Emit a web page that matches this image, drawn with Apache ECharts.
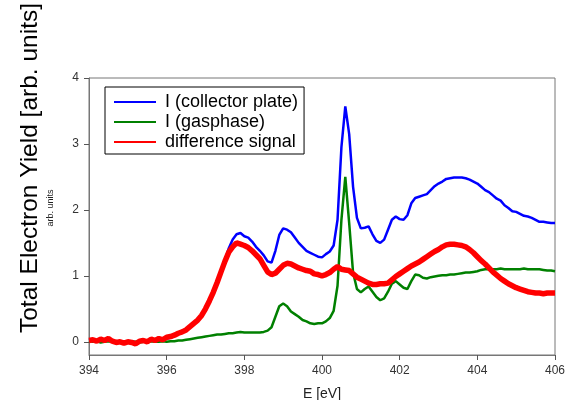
<!DOCTYPE html>
<html>
<head>
<meta charset="utf-8">
<script src="https://cdn.jsdelivr.net/npm/echarts@6/dist/echarts.min.js"></script>
<style>html,body{margin:0;padding:0;background:#fff}#c{width:565px;height:400px}</style>
</head>
<body>
<div id="c"></div>
<script>
// Photon energy (eV)
var energy = [
394.0,394.1,394.2,394.3,394.4,394.5,394.6,394.7,394.8,394.9,
395.0,395.1,395.2,395.3,395.4,395.5,395.6,395.7,395.8,395.9,
396.0,396.1,396.2,396.3,396.4,396.5,396.6,396.7,396.8,396.9,
397.0,397.1,397.2,397.3,397.4,397.5,397.6,397.7,397.8,397.9,
398.0,398.1,398.2,398.3,398.4,398.5,398.6,398.7,398.8,398.9,
399.0,399.1,399.2,399.3,399.4,399.5,399.6,399.7,399.8,399.9,
400.0,400.1,400.2,400.3,400.4,400.5,400.6,400.7,400.8,400.9,
401.0,401.1,401.2,401.3,401.4,401.5,401.6,401.7,401.8,401.9,
402.0,402.1,402.2,402.3,402.4,402.5,402.6,402.7,402.8,402.9,
403.0,403.1,403.2,403.3,403.4,403.5,403.6,403.7,403.8,403.9,
404.0,404.1,404.2,404.3,404.4,404.5,404.6,404.7,404.8,404.9,
405.0,405.1,405.2,405.3,405.4,405.5,405.6,405.7,405.8,405.9,
406.0];

var collectorPlate = [
0.02,0.03,0.02,0.03,0.02,0.03,0.01,0.00,0.00,0.00,
0.00,0.01,-0.01,0.01,0.02,0.02,0.03,0.03,0.04,0.04,
0.05,0.06,0.09,0.12,0.14,0.17,0.22,0.27,0.33,0.40,
0.50,0.62,0.75,0.92,1.08,1.24,1.42,1.55,1.63,1.65,
1.60,1.58,1.52,1.44,1.38,1.31,1.22,1.20,1.38,1.62,
1.72,1.70,1.66,1.58,1.50,1.44,1.38,1.35,1.32,1.29,
1.28,1.33,1.37,1.46,1.85,2.95,3.57,3.15,2.35,1.88,
1.72,1.73,1.75,1.63,1.53,1.50,1.55,1.70,1.85,1.90,
1.86,1.85,1.92,2.10,2.18,2.20,2.22,2.24,2.30,2.36,
2.40,2.43,2.47,2.48,2.49,2.49,2.49,2.48,2.46,2.43,
2.40,2.35,2.30,2.27,2.22,2.17,2.14,2.07,2.03,1.98,
1.97,1.94,1.91,1.90,1.88,1.85,1.82,1.82,1.81,1.80,
1.80];

var gasphase = [
0.01,0.00,0.01,-0.01,0.00,0.01,0.00,-0.01,0.00,0.00,
-0.01,0.00,0.00,-0.01,0.00,0.00,0.01,0.00,0.00,0.01,
0.00,0.01,0.01,0.02,0.02,0.03,0.04,0.05,0.06,0.07,
0.08,0.09,0.10,0.11,0.11,0.12,0.13,0.13,0.14,0.15,
0.14,0.14,0.14,0.14,0.14,0.15,0.17,0.22,0.38,0.54,
0.58,0.54,0.46,0.42,0.38,0.33,0.31,0.28,0.27,0.28,
0.28,0.31,0.36,0.47,0.85,1.85,2.50,1.80,1.05,0.80,
0.75,0.80,0.84,0.76,0.68,0.63,0.66,0.76,0.88,0.92,
0.87,0.82,0.80,0.92,1.02,1.01,0.97,0.96,0.98,0.99,
1.00,1.01,1.01,1.02,1.02,1.03,1.04,1.05,1.05,1.06,
1.07,1.09,1.10,1.10,1.10,1.10,1.11,1.10,1.10,1.10,
1.10,1.10,1.11,1.10,1.10,1.10,1.10,1.09,1.08,1.08,
1.07];

var difference = [
0.02,0.03,0.01,0.04,0.02,0.05,0.01,-0.01,0.00,-0.02,
0.00,-0.01,-0.03,0.01,0.02,0.00,0.04,0.02,0.05,0.03,
0.07,0.08,0.10,0.13,0.15,0.18,0.23,0.28,0.33,0.40,
0.50,0.62,0.75,0.90,1.06,1.22,1.36,1.44,1.50,1.48,
1.46,1.43,1.38,1.32,1.26,1.16,1.06,1.02,1.04,1.10,
1.16,1.19,1.18,1.15,1.12,1.10,1.08,1.07,1.03,1.02,
1.00,1.02,1.05,1.10,1.14,1.10,1.09,1.08,1.03,0.98,
0.95,0.92,0.89,0.87,0.87,0.88,0.88,0.89,0.94,0.99,
1.03,1.07,1.11,1.15,1.18,1.21,1.25,1.29,1.33,1.37,
1.40,1.44,1.47,1.48,1.48,1.47,1.46,1.44,1.40,1.35,
1.29,1.23,1.18,1.12,1.06,1.01,0.96,0.92,0.88,0.85,
0.82,0.80,0.78,0.76,0.75,0.74,0.74,0.73,0.74,0.74,
0.74];

var seriesNames = ['I (collector plate)', 'I (gasphase)', 'difference signal'];
var yTicks = [0, 1, 2, 3, 4];

function pairs(ys) { return energy.map(function (e, i) { return [e, ys[i]]; }); }

var FONT = 'Liberation Sans, Arial, sans-serif';
var chart = echarts.init(document.getElementById('c'), null, {renderer: 'canvas'});
chart.setOption({
  animation: false,
  backgroundColor: '#fff',
  grid: {left: 89, right: 10, top: 78, bottom: 45, outerBoundsMode: 'none', containLabel: false,
         show: true, borderColor: '#777', borderWidth: 1, backgroundColor: 'transparent'},
  xAxis: {
    type: 'value', min: 394, max: 406, interval: 2,
    name: 'E [eV]', nameLocation: 'middle', nameGap: 32,
    nameTextStyle: {fontFamily: FONT, fontSize: 14, color: '#222'},
    axisLine: {show: true, onZero: false, lineStyle: {color: '#777', width: 1}},
    axisTick: {show: true, inside: false, length: 5, lineStyle: {color: '#555'}},
    axisLabel: {fontFamily: FONT, fontSize: 12, color: '#333', margin: 10},
    splitLine: {show: false}
  },
  yAxis: {
    type: 'value', min: -0.2, max: 4,
    axisLine: {show: true, onZero: false, lineStyle: {color: '#777', width: 1}},
    axisTick: {show: true, inside: false, length: 5, customValues: yTicks, lineStyle: {color: '#555'}},
    axisLabel: {fontFamily: FONT, fontSize: 12, color: '#333', margin: 10, customValues: yTicks},
    splitLine: {show: false}
  },
  legend: {
    orient: 'vertical', left: 105, top: 87,
    padding: [6, 6, 3, 8],
    backgroundColor: '#fff', borderColor: '#000', borderWidth: 1,
    itemWidth: 42, itemHeight: 14, itemGap: 2,
    itemStyle: {opacity: 0},
    textStyle: {fontFamily: FONT, fontSize: 18, color: '#000', lineHeight: 18, padding: [0, 0, 0, 4]},
    data: seriesNames
  },
  graphic: [
    {type: 'text', x: 30, y: 168, rotation: Math.PI / 2,
     style: {text: 'Total Electron Yield [arb. units]', font: '24.5px ' + FONT, fill: '#000', align: 'center', verticalAlign: 'middle'}},
    {type: 'text', x: 51, y: 208, rotation: Math.PI / 2,
     style: {text: 'arb. units', font: '9px ' + FONT, fill: '#222', align: 'center', verticalAlign: 'middle'}}
  ],
  series: [
    {name: seriesNames[0], type: 'line', data: pairs(collectorPlate), symbol: 'none', smooth: false,
     lineStyle: {color: '#0000ff', width: 2.5}, itemStyle: {color: '#0000ff'}},
    {name: seriesNames[1], type: 'line', data: pairs(gasphase), symbol: 'none', smooth: false,
     lineStyle: {color: '#008000', width: 2.5}, itemStyle: {color: '#008000'}},
    {name: seriesNames[2], type: 'line', data: pairs(difference), symbol: 'none', smooth: false,
     lineStyle: {color: '#ff0000', width: 5.5}, itemStyle: {color: '#ff0000'}}
  ]
});
</script>
</body>
</html>
